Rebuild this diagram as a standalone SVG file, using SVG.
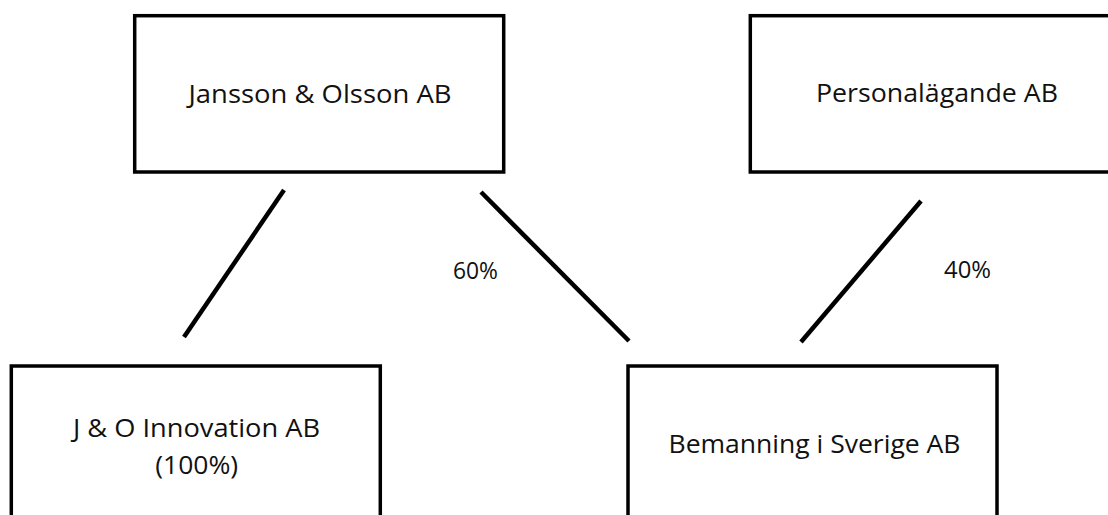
<svg xmlns="http://www.w3.org/2000/svg" width="1108" height="515" viewBox="0 0 1108 515">
<style>
.box{fill:#fff;stroke:#000;stroke-width:3.5}
.lbl{font-family:"Open Sans","Liberation Sans",sans-serif;font-size:26px;fill:#111;text-anchor:middle}
.pct{font-family:"Open Sans","Liberation Sans",sans-serif;font-size:23px;fill:#111}
.con line{stroke:#000;stroke-width:4.5;stroke-linecap:butt}
</style>
<rect width="1108" height="515" fill="#fff"/>
<g id="connectors" class="con">
<line x1="284" y1="190" x2="184" y2="337"/>
<line x1="481" y1="192" x2="629" y2="341"/>
<line x1="921" y1="201" x2="801" y2="342"/>
</g>
<g id="node-jansson">
<rect class="box" x="134.7" y="15.7" width="369" height="156.3"/>
<text class="lbl" x="320" y="103" textLength="263" lengthAdjust="spacingAndGlyphs">Jansson &amp; Olsson AB</text>
</g>
<g id="node-personal">
<rect class="box" x="750.3" y="15.7" width="370" height="156.3"/>
<text class="lbl" x="937" y="102" textLength="242" lengthAdjust="spacingAndGlyphs">Personalägande AB</text>
</g>
<g id="node-innovation">
<rect class="box" x="11.3" y="366" width="369" height="170"/>
<text class="lbl" x="196.5" y="437" textLength="247" lengthAdjust="spacingAndGlyphs">J &amp; O Innovation AB</text>
<text class="lbl" x="196.7" y="474" textLength="83" lengthAdjust="spacingAndGlyphs">(100%)</text>
</g>
<g id="node-bemanning">
<rect class="box" x="628" y="366" width="369" height="170"/>
<text class="lbl" x="814.5" y="453" textLength="292" lengthAdjust="spacingAndGlyphs">Bemanning i Sverige AB</text>
</g>
<g id="label-60">
<text class="pct" x="453" y="279" textLength="45" lengthAdjust="spacingAndGlyphs">60%</text>
</g>
<g id="label-40">
<text class="pct" x="944" y="278" textLength="47" lengthAdjust="spacingAndGlyphs">40%</text>
</g>
</svg>
